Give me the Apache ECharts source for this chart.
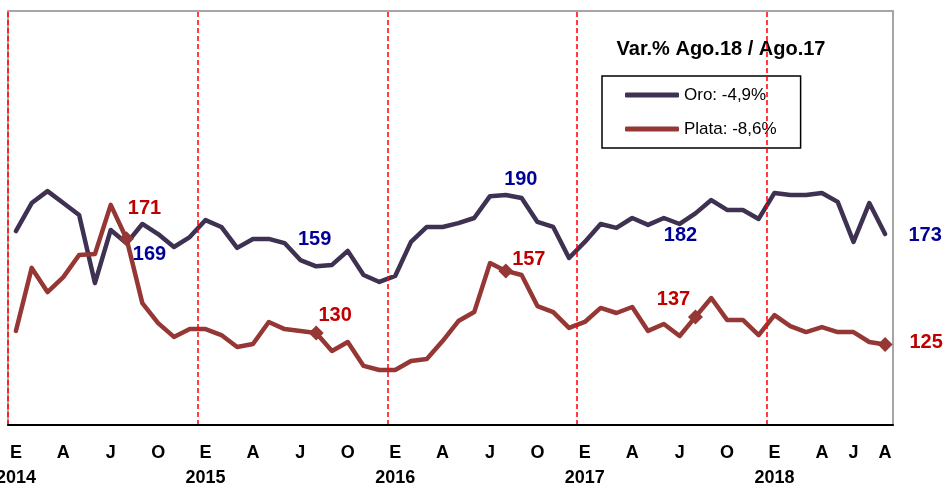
<!DOCTYPE html>
<html>
<head>
<meta charset="utf-8">
<style>
  html, body { margin: 0; padding: 0; background: #fff; }
  #chart { width: 946px; height: 488px; }
</style>
<script src="https://cdn.jsdelivr.net/npm/echarts@6/dist/echarts.min.js"></script>
</head>
<body>
<div id="chart"></div>
<script>
// meses ene-2014 .. ago-2018
var categories = [
  'Ene14','Feb14','Mar14','Abr14','May14','Jun14','Jul14','Ago14','Sep14','Oct14','Nov14','Dic14',
  'Ene15','Feb15','Mar15','Abr15','May15','Jun15','Jul15','Ago15','Sep15','Oct15','Nov15','Dic15',
  'Ene16','Feb16','Mar16','Abr16','May16','Jun16','Jul16','Ago16','Sep16','Oct16','Nov16','Dic16',
  'Ene17','Feb17','Mar17','Abr17','May17','Jun17','Jul17','Ago17','Sep17','Oct17','Nov17','Dic17',
  'Ene18','Feb18','Mar18','Abr18','May18','Jun18','Jul18','Ago18'
];
var tickLabels = [
  'E\n2014','','','A','','','J','','','O','','',
  'E\n2015','','','A','','','J','','','O','','',
  'E\n2016','','','A','','','J','','','O','','',
  'E\n2017','','','A','','','J','','','O','','',
  'E\n2018','','','A','','J','','A'
];
var oro = [
  174.3,186.5,191.7,186.5,181.3,151.7,174.8,169,177.4,173,167.4,171.7,
  179.1,176.1,167,170.9,170.9,169.1,161.7,159,159.6,165.7,155.2,152.2,
  154.8,169.6,176.1,176.1,177.8,180,189.5,190,188.7,178.3,176.1,162.6,
  169.6,177.4,175.7,180,177,180,177.4,182,187.8,183.5,183.5,179.6,
  190.9,190,190,190.9,187,169.6,186.5,173
];
var plata = [
  130.9,158.3,147.8,154.3,163.9,164.3,185.7,171,143,134.3,128.3,131.7,
  131.7,129.1,123.9,125.2,134.8,131.7,130.9,130,122.2,126.1,115.7,113.9,
  113.9,117.8,118.7,126.5,135.2,139.1,160.4,157,155.2,141.7,139.1,132.2,
  134.8,140.9,138.7,141.3,130.9,133.9,128.7,137,145.2,135.7,135.7,129.1,
  137.8,133,130.4,132.6,130.4,130.4,126.1,125
];
var seriesNames = ['Oro', 'Plata'];
var variacion = ['-4,9%', '-8,6%'];
var agostoIdx = [7, 19, 31, 43, 55];
// inicio de cada año (límite entre dic y ene)
var inicioAnio = [0, 12, 24, 36, 48];

// desplazamiento de las etiquetas (px)
var oroOffsets = [[23, 11], [-1.5, -27], [15, -16], [-15, 22], [40, 1]];
var plataOffsets = [[18, -30], [19, -18], [23, -11.5], [-22, -17], [41, -2.5]];

var colorOro = '#3f3151';
var colorPlata = '#953735';
var fuente = 'Liberation Sans, Arial, sans-serif';

function buildData(values, offsets, symbol, size, labelColor) {
  return values.map(function (v, i) {
    var k = agostoIdx.indexOf(i);
    if (k < 0) return v;
    return {
      value: v,
      symbol: symbol,
      symbolSize: size,
      label: {
        show: true,
        position: 'inside',
        offset: offsets[k],
        formatter: String(Math.round(v)),
        color: labelColor,
        fontSize: 20,
        fontWeight: 'bold',
        fontFamily: fuente
      }
    };
  });
}

var chart = echarts.init(document.getElementById('chart'));
var option = {
  animation: false,
  backgroundColor: '#fff',
  grid: {
    left: 8, right: 53, top: 11, bottom: 63,
    containLabel: false,
    outerBoundsMode: 'none',
    show: true, borderColor: '#a6a6a6', borderWidth: 2
  },
  graphic: [{
    type: 'text',
    x: 721, y: 49,
    style: {
      text: 'Var.% Ago.18 / Ago.17',
      fill: '#000',
      font: 'bold 20px "Liberation Sans", Arial, sans-serif',
      textAlign: 'center',
      textVerticalAlign: 'middle'
    }
  }],
  legend: {
    left: 602, top: 76,
    orient: 'vertical',
    icon: 'roundRect',
    itemWidth: 54, itemHeight: 5,
    itemGap: 14,
    padding: [9, 24, 9, 23],
    borderColor: '#000', borderWidth: 1.5,
    backgroundColor: '#fff',
    data: seriesNames,
    formatter: function (name) {
      return name + ': ' + variacion[seriesNames.indexOf(name)];
    },
    textStyle: { color: '#000', fontSize: 17, lineHeight: 20, fontFamily: fuente }
  },
  xAxis: [
    {
      type: 'category',
      data: categories,
      boundaryGap: true,
      axisLine: { lineStyle: { color: '#000', width: 2 } },
      axisTick: { show: false },
      axisLabel: {
        interval: function (i) { return tickLabels[i] !== ''; },
        formatter: function (v, i) { return tickLabels[i]; },
        margin: 16,
        color: '#000',
        fontSize: 18,
        fontWeight: 'bold',
        lineHeight: 25,
        fontFamily: fuente
      },
      splitLine: { show: false },
      z: 5
    },
    {
      // eje auxiliar para las líneas de inicio de año
      type: 'value',
      min: 0, max: categories.length,
      show: false
    }
  ],
  yAxis: {
    type: 'value',
    min: 90, max: 270,
    show: false,
    splitLine: { show: false }
  },
  series: [
    {
      name: 'limites',
      type: 'line',
      xAxisIndex: 1,
      data: [],
      silent: true,
      markLine: {
        silent: true,
        symbol: 'none',
        label: { show: false },
        lineStyle: { color: '#ff0000', type: [5, 3], width: 1.5 },
        data: inicioAnio.map(function (x) { return { xAxis: x }; })
      },
      z: 1
    },
    {
      name: 'Oro',
      type: 'line',
      data: buildData(oro, oroOffsets, 'circle', 2, '#000099'),
      symbol: 'none',
      showAllSymbol: true,
      color: colorOro,
      itemStyle: { color: colorOro },
      lineStyle: { color: colorOro, width: 4.5, cap: 'round', join: 'round' },
      emphasis: { disabled: true },
      z: 3
    },
    {
      name: 'Plata',
      type: 'line',
      data: buildData(plata, plataOffsets, 'diamond', 15, '#c00000'),
      symbol: 'none',
      showAllSymbol: true,
      color: colorPlata,
      itemStyle: { color: colorPlata },
      lineStyle: { color: colorPlata, width: 4.5, cap: 'round', join: 'round' },
      emphasis: { disabled: true },
      z: 4
    }
  ]
};
chart.setOption(option);
</script>
</body>
</html>
